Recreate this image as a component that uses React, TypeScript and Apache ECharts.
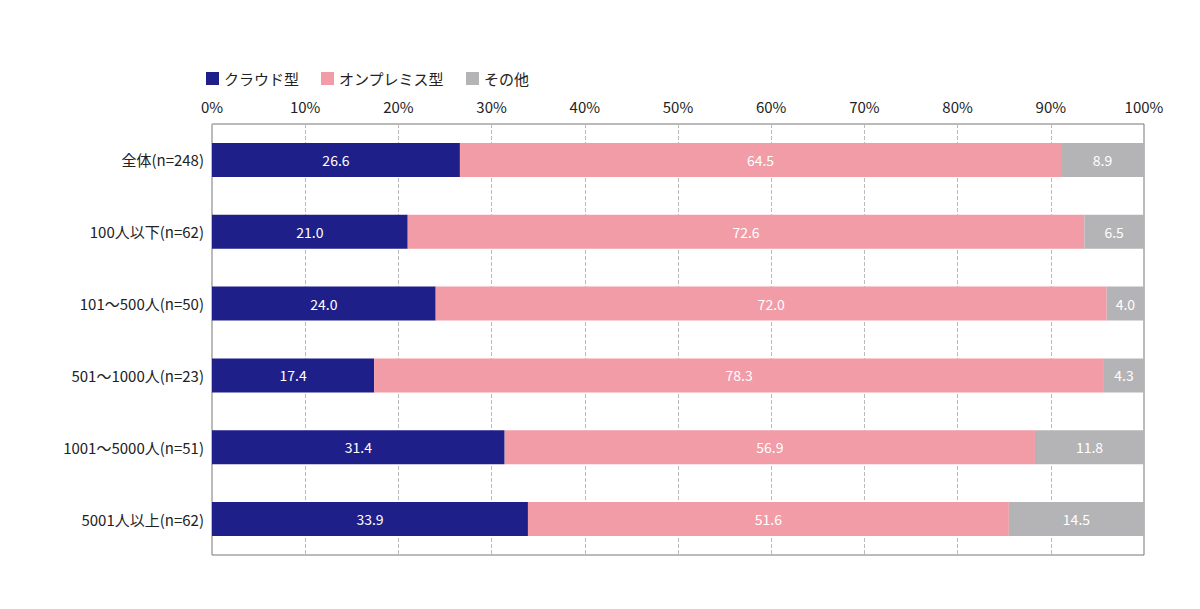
import React, { useEffect, useRef } from 'react';
import * as echarts from 'echarts';

const categories = ['全体(n=248)', '100人以下(n=62)', '101〜500人(n=50)', '501〜1000人(n=23)', '1001〜5000人(n=51)', '5001人以上(n=62)'];
const cloud = [26.6, 21.0, 24.0, 17.4, 31.4, 33.9];
const onprem = [64.5, 72.6, 72.0, 78.3, 56.9, 51.6];
const other = [8.9, 6.5, 4.0, 4.3, 11.8, 14.5];

const App = () => {
  const chartRef = useRef(null);

  useEffect(() => {
    const chart = echarts.init(chartRef.current, null, { renderer: 'svg' });
    const font = '"Noto Sans CJK JP", "Noto Sans", sans-serif';
    const label = {
      show: true,
      color: '#fff',
      fontSize: 14,
      fontFamily: font,
      formatter: (p: any) => p.value.toFixed(1),
    };
    const mk = (name: string, data: number[], color: string) => ({
      name,
      type: 'bar',
      stack: 'total',
      data,
      barWidth: 34,
      itemStyle: { color },
      label,
    });

    chart.setOption({
      animation: false,
      textStyle: { fontFamily: font },
      legend: {
        left: 193,
        top: 58,
        itemWidth: 13,
        itemHeight: 13,
        itemGap: 22,
        icon: 'rect',
        textStyle: { fontSize: 15, color: '#222', fontFamily: font },
        data: ['クラウド型', 'オンプレミス型', 'その他'],
      },
      grid: {
        left: 204,
        right: 48,
        top: 116,
        bottom: 46,
        show: true,
        borderColor: '#777',
        borderWidth: 1,
      },
      xAxis: {
        type: 'value',
        position: 'top',
        min: 0,
        max: 100,
        interval: 10,
        axisLabel: { formatter: '{value}%', fontSize: 15, color: '#222', margin: 10 },
        axisLine: { show: false },
        axisTick: { show: false },
        splitLine: { lineStyle: { type: 'dashed', color: '#bbb' } },
      },
      yAxis: {
        type: 'category',
        inverse: true,
        data: categories,
        axisLabel: { fontSize: 15, color: '#222', margin: 8 },
        axisLine: { show: false },
        axisTick: { show: false },
      },
      series: [
        mk('クラウド型', cloud, '#1f1f89'),
        mk('オンプレミス型', onprem, '#f19ca6'),
        mk('その他', other, '#b4b4b6'),
      ],
    });

    return () => {
      chart.dispose();
    };
  }, []);

  return <div ref={chartRef} style={{ width: '1184px', height: '593px' }} />;
};

export default App;
